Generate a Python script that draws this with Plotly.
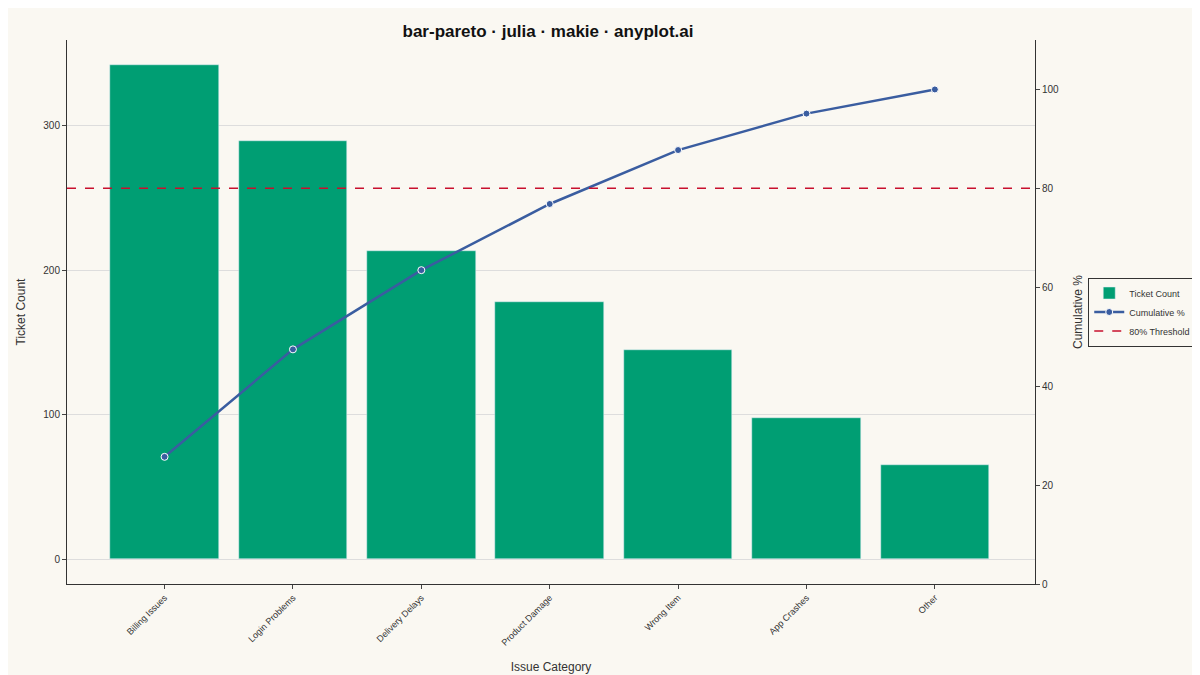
import plotly.graph_objects as go

categories = ["Billing Issues", "Login Problems", "Delivery Delays", "Product Damage", "Wrong Item", "App Crashes", "Other"]
counts = [342, 289, 213, 178, 145, 98, 65]
total = sum(counts)
cum = []
s = 0
for c in counts:
    s += c
    cum.append(s / total * 100)
threshold = 80

x = list(range(len(categories)))
fig = go.Figure()
fig.add_trace(go.Bar(x=x, y=counts, name="Ticket Count", marker_color="#009E73", width=0.846))
fig.add_trace(go.Scatter(x=x, y=cum, name="Cumulative %", yaxis="y2", mode="lines+markers",
                         line=dict(color="#3A5DA0", width=2.5),
                         marker=dict(size=7, color="#3A5DA0", line=dict(color="white", width=1))))
fig.add_trace(go.Scatter(x=[-0.76, 6.78], y=[threshold, threshold], name="80% Threshold", yaxis="y2", mode="lines",
                         line=dict(color="#C8102E", width=1.5, dash="dash")))

fig.update_layout(
    width=1200, height=675,
    paper_bgcolor="#FAF8F2", plot_bgcolor="#FAF8F2",
    font=dict(family="Liberation Sans, Arial", size=10, color="#333"),
    title=dict(text="<b>bar-pareto · julia · makie · anyplot.ai</b>", x=0.45, xanchor="center", y=0.975,
               font=dict(size=17, color="#111")),
    margin=dict(l=50, r=170, t=32, b=83),
    xaxis=dict(range=[-0.76, 6.78], tickmode="array", tickvals=x, ticktext=categories, tickangle=-45,
               showline=True, linecolor="#333", ticks="outside", ticklen=4, showgrid=False,
               title=dict(text="Issue Category", font=dict(size=12)), tickfont=dict(size=9)),
    yaxis=dict(range=[-17, 359], tickvals=[0, 100, 200, 300], showline=True, linecolor="#333",
               ticks="outside", ticklen=4, gridcolor="#DDDDDD", zeroline=False,
               title=dict(text="Ticket Count", font=dict(size=12))),
    yaxis2=dict(range=[0, 110], overlaying="y", side="right", tickvals=[0, 20, 40, 60, 80, 100],
                ticksuffix="%", showline=True, linecolor="#333", ticks="outside", ticklen=4,
                showgrid=False, zeroline=False,
                title=dict(text="Cumulative %", font=dict(size=12))),
    legend=dict(x=1.055, y=0.5, xanchor="left", yanchor="middle", bgcolor="#FAF8F2",
                bordercolor="#333", borderwidth=1, font=dict(size=9)),
    bargap=0,
)
fig.write_html("out.html")
